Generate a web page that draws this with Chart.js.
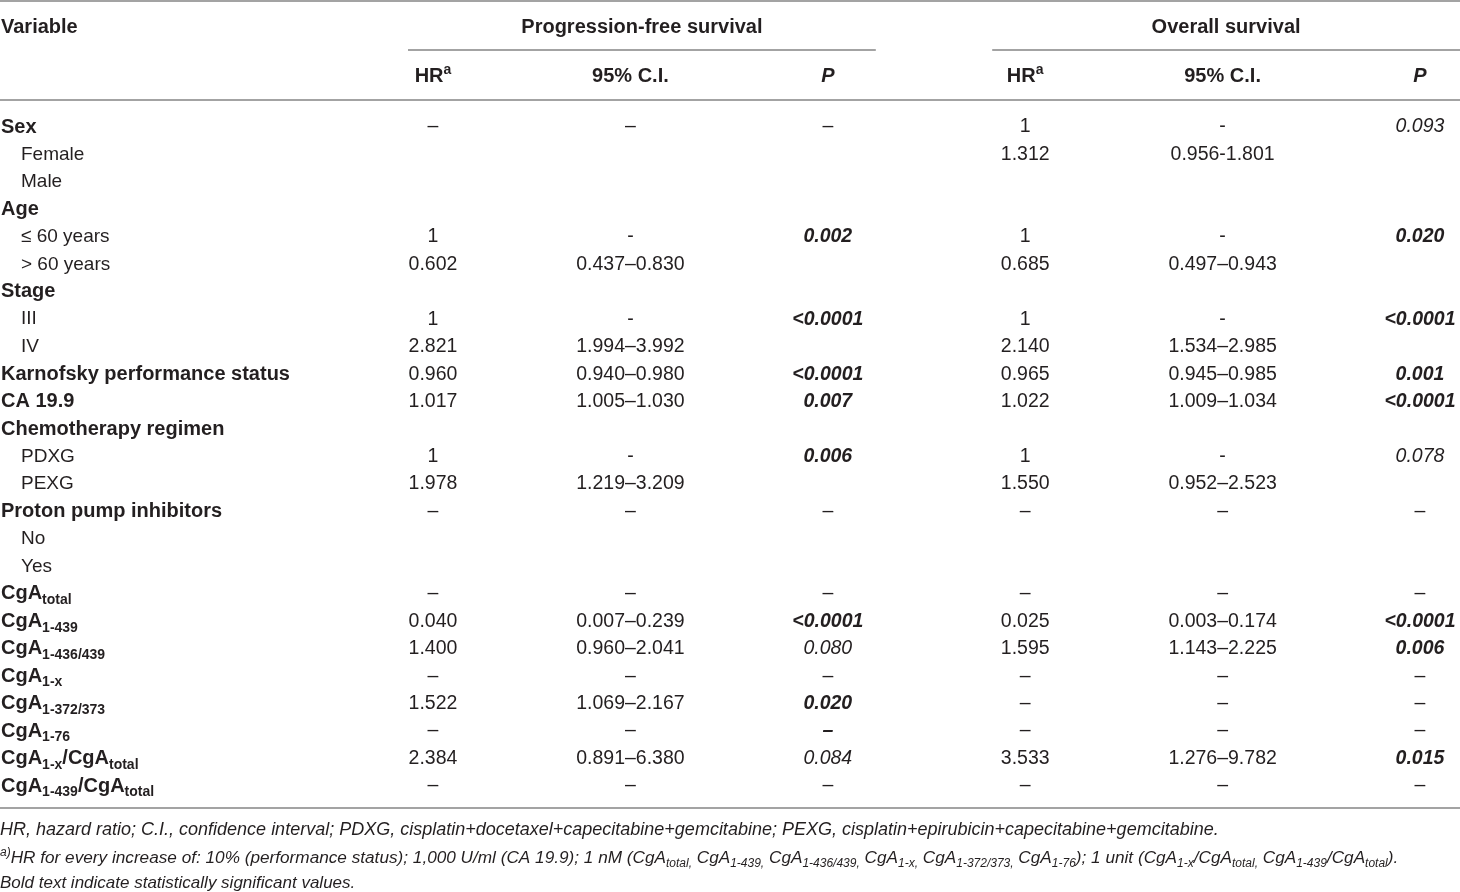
<!DOCTYPE html>
<html>
<head>
<meta charset="utf-8">
<script src="https://cdn.jsdelivr.net/npm/chart.js@4.4.1/dist/chart.umd.min.js"></script>
<style>
  html, body { margin: 0; padding: 0; background: #fff; }
  canvas { display: block; }
</style>
</head>
<body>
<canvas id="hrTable" width="1460" height="892"></canvas>
<script>
// Rows of the table (_{..} = subscript)
const variables = ['Sex', 'Female', 'Male', 'Age', '≤ 60 years', '> 60 years', 'Stage', 'III', 'IV',
    'Karnofsky performance status', 'CA 19.9', 'Chemotherapy regimen', 'PDXG', 'PEXG',
    'Proton pump inhibitors', 'No', 'Yes', 'CgA_{total}', 'CgA_{1-439}', 'CgA_{1-436/439}',
    'CgA_{1-x}', 'CgA_{1-372/373}', 'CgA_{1-76}', 'CgA_{1-x}/CgA_{total}', 'CgA_{1-439}/CgA_{total}'];
const indent = [0, 1, 1, 0, 1, 1, 0, 1, 1, 0, 0, 0, 1, 1, 0, 1, 1, 0, 0, 0, 0, 0, 0, 0, 0];

const columns = ['pfsHR', 'pfsCI', 'pfsP', 'osHR', 'osCI', 'osP'];
const columnTitles = ['HR^{a}', '95% C.I.', 'P', 'HR^{a}', '95% C.I.', 'P'];
const groupTitles = ['Progression-free survival', 'Overall survival'];

// "**" = bold italic, "*" = italic
const hrPFS = ['–', '', '', '', '1', '0.602', '', '1', '2.821', '0.960', '1.017', '', '1', '1.978',
    '–', '', '', '–', '0.040', '1.400', '–', '1.522', '–', '2.384', '–'];
const ciPFS = ['–', '', '', '', '-', '0.437–0.830', '', '-', '1.994–3.992', '0.940–0.980', '1.005–1.030', '', '-', '1.219–3.209',
    '–', '', '', '–', '0.007–0.239', '0.960–2.041', '–', '1.069–2.167', '–', '0.891–6.380', '–'];
const pPFS = ['–', '', '', '', '**0.002', '', '', '**<0.0001', '', '**<0.0001', '**0.007', '', '**0.006', '',
    '–', '', '', '–', '**<0.0001', '*0.080', '–', '**0.020', '**–', '*0.084', '–'];
const hrOS = ['1', '1.312', '', '', '1', '0.685', '', '1', '2.140', '0.965', '1.022', '', '1', '1.550',
    '–', '', '', '–', '0.025', '1.595', '–', '–', '–', '3.533', '–'];
const ciOS = ['-', '0.956-1.801', '', '', '-', '0.497–0.943', '', '-', '1.534–2.985', '0.945–0.985', '1.009–1.034', '', '-', '0.952–2.523',
    '–', '', '', '–', '0.003–0.174', '1.143–2.225', '–', '–', '–', '1.276–9.782', '–'];
const pOS = ['*0.093', '', '', '', '**0.020', '', '', '**<0.0001', '', '**0.001', '**<0.0001', '', '*0.078', '',
    '–', '', '', '–', '**<0.0001', '**0.006', '–', '–', '–', '**0.015', '–'];

const footnotes = [
    'HR, hazard ratio; C.I., confidence interval; PDXG, cisplatin+docetaxel+capecitabine+gemcitabine; PEXG, cisplatin+epirubicin+capecitabine+gemcitabine.',
    '^{a)}HR for every increase of: 10% (performance status); 1,000 U/ml (CA 19.9); 1 nM (CgA_{total,} CgA_{1-439,} CgA_{1-436/439,} CgA_{1-x,} CgA_{1-372/373,} CgA_{1-76}); 1 unit (CgA_{1-x}/CgA_{total,} CgA_{1-439}/CgA_{total}).',
    'Bold text indicate statistically significant values.'
];

const FAMILY = '"Liberation Sans", Arial, Helvetica, sans-serif';
const INK = '#231f20';
const RULE = '#a3a3a3';

function font(size, weight, style) {
    return `${style || 'normal'} ${weight || 'normal'} ${size}px ${FAMILY}`;
}

// split "abc_{sub}def^{sup}" into segments
function parseRich(text) {
    const segs = [];
    const re = /([_^])\{([^}]*)\}/g;
    let last = 0, m;
    while ((m = re.exec(text)) !== null) {
        if (m.index > last) segs.push({ t: text.slice(last, m.index), mode: 'n' });
        segs.push({ t: m[2], mode: m[1] === '_' ? 'sub' : 'sup' });
        last = re.lastIndex;
    }
    if (last < text.length) segs.push({ t: text.slice(last), mode: 'n' });
    return segs;
}

function drawRich(ctx, text, x, y, size, weight, style, align) {
    const segs = parseRich(text);
    const small = Math.round(size * 0.72);
    let total = 0;
    segs.forEach(s => {
        ctx.font = font(s.mode === 'n' ? size : small, weight, style);
        s.w = ctx.measureText(s.t).width;
        total += s.w;
    });
    let cx = align === 'center' ? x - total / 2 : x;
    ctx.textAlign = 'left';
    ctx.textBaseline = 'middle';
    segs.forEach(s => {
        let dy = 1;
        if (s.mode === 'sub') dy += size * 0.32;
        if (s.mode === 'sup') dy -= size * 0.3;
        ctx.font = font(s.mode === 'n' ? size : small, weight, style);
        ctx.fillText(s.t, cx, y + dy);
        cx += s.w;
    });
}

const tablePlugin = {
    id: 'tableText',
    afterDatasetsDraw(chart) {
        const ctx = chart.ctx;
        const W = chart.width;
        const xs = chart.scales.x;
        const ys = chart.scales.y;
        ctx.save();
        ctx.fillStyle = INK;

        // rules
        ctx.strokeStyle = RULE;
        ctx.lineWidth = 2;
        const hline = (x1, x2, y) => {
            ctx.beginPath(); ctx.moveTo(x1, y); ctx.lineTo(x2, y); ctx.stroke();
        };
        const pfsLeft = xs.getPixelForValue(0) - 25, pfsRight = xs.getPixelForValue(2) + 48;
        const osLeft = xs.getPixelForValue(3) - 33;
        hline(0, W, 1);
        hline(pfsLeft, pfsRight, 50);
        hline(osLeft, W, 50);
        hline(0, W, 100);
        hline(0, W, 808);

        // header
        drawRich(ctx, 'Variable', 1, 26, 20, 'bold', 'normal', 'left');
        drawRich(ctx, groupTitles[0], (pfsLeft + pfsRight) / 2, 26, 20, 'bold', 'normal', 'center');
        drawRich(ctx, groupTitles[1], (osLeft + W) / 2, 26, 20, 'bold', 'normal', 'center');
        columnTitles.forEach((t, c) => {
            const italic = t === 'P' ? 'italic' : 'normal';
            drawRich(ctx, t, xs.getPixelForValue(c), 75, 20, 'bold', italic, 'center');
        });

        // variable column
        variables.forEach((v, i) => {
            const y = ys.getPixelForValue(i);
            if (indent[i]) drawRich(ctx, v, 21, y, 19, 'normal', 'normal', 'left');
            else drawRich(ctx, v, 1, y, 20, 'bold', 'normal', 'left');
        });

        // cells, placed at the scatter points
        chart.data.datasets.forEach((ds, d) => {
            const meta = chart.getDatasetMeta(d);
            meta.data.forEach((pt, i) => {
                let txt = ds.cellText[i];
                if (!txt) return;
                let weight = 'normal', style = 'normal';
                if (txt.startsWith('**')) { weight = 'bold'; style = 'italic'; txt = txt.slice(2); }
                else if (txt.startsWith('*')) { style = 'italic'; txt = txt.slice(1); }
                drawRich(ctx, txt, pt.x, pt.y, 19.5, weight, style, 'center');
            });
        });

        // footnotes
        drawRich(ctx, footnotes[0], 0, 829, 18, 'normal', 'italic', 'left');
        drawRich(ctx, footnotes[1], 0, 857, 17.2, 'normal', 'italic', 'left');
        drawRich(ctx, footnotes[2], 0, 882, 17, 'normal', 'italic', 'left');
        ctx.restore();
    }
};

const cellColumns = [hrPFS, ciPFS, pPFS, hrOS, ciOS, pOS];

const ctx = document.getElementById('hrTable').getContext('2d');
new Chart(ctx, {
    type: 'scatter',
    data: {
        datasets: cellColumns.map((col, c) => ({
            label: columns[c],
            cellText: col,
            data: variables.map(v => ({ x: columns[c], y: v })),
            pointRadius: 0,
            pointHoverRadius: 0
        }))
    },
    options: {
        responsive: false,
        animation: false,
        devicePixelRatio: 1,
        events: [],
        layout: { padding: { left: 433, right: 40, top: 126, bottom: 107 } },
        scales: {
            x: { type: 'category', labels: columns, offset: false, display: false },
            y: { type: 'category', labels: variables, offset: false, display: false }
        },
        plugins: {
            legend: { display: false },
            tooltip: { enabled: false }
        }
    },
    plugins: [tablePlugin]
});
</script>
</body>
</html>
